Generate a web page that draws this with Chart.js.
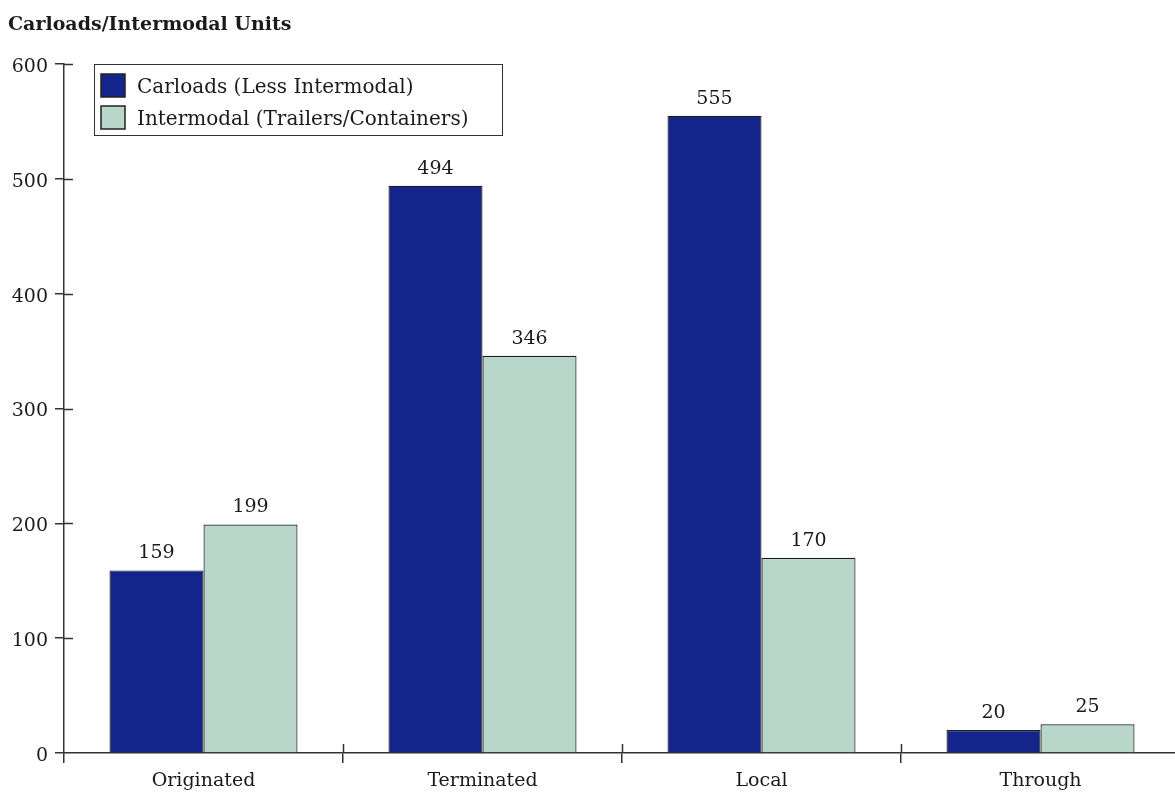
<!DOCTYPE html>
<html>
<head>
<meta charset="utf-8">
<title>Carloads/Intermodal Units</title>
<script src="https://cdn.jsdelivr.net/npm/chart.js@4.4.1/dist/chart.umd.min.js"></script>
<style>
    html, body { margin: 0; padding: 0; background: #ffffff; overflow: hidden; }
    #wrap { position: relative; width: 1180px; height: 795px; }
</style>
</head>
<body>
<div id="wrap"><canvas id="units-chart"></canvas></div>
<script>
const categories = ['Originated', 'Terminated', 'Local', 'Through'];
const carloads = [159, 494, 555, 20];
const intermodal = [199, 346, 170, 25];
const yTicks = [0, 100, 200, 300, 400, 500, 600];

const FONT = '"DejaVu Serif", "Liberation Serif", serif';
const INK = '#1a1a1a';
const AXIS = '#333333';

// axis ticks that cross the axis line (outer half is drawn by the grid)
const innerTicks = {
    id: 'innerTicks',
    afterDatasetsDraw(chart) {
        const { ctx, chartArea, scales } = chart;
        const y = scales.y;
        const x = scales.x;
        ctx.save();
        ctx.strokeStyle = AXIS;
        ctx.lineWidth = 1.5;
        ctx.beginPath();
        y.ticks.forEach((t) => {
            if (t.value === 0) return;
            const py = Math.round(y.getPixelForValue(t.value)) + 0.5;
            ctx.moveTo(chartArea.left, py);
            ctx.lineTo(chartArea.left + 9, py);
        });
        for (let i = 1; i < categories.length; i++) {
            const px = Math.round((x.getPixelForTick(i - 1) + x.getPixelForTick(i)) / 2) + 0.5;
            ctx.moveTo(px, chartArea.bottom);
            ctx.lineTo(px, chartArea.bottom - 9);
        }
        ctx.stroke();
        ctx.restore();
    },
};

// value labels above each bar
const barValues = {
    id: 'barValues',
    afterDatasetsDraw(chart) {
        const { ctx } = chart;
        ctx.save();
        ctx.font = '19px ' + FONT;
        ctx.fillStyle = INK;
        ctx.textAlign = 'center';
        ctx.textBaseline = 'alphabetic';
        chart.data.datasets.forEach((ds, di) => {
            chart.getDatasetMeta(di).data.forEach((bar, i) => {
                ctx.fillText(String(ds.data[i]), bar.x, bar.y - 12);
            });
        });
        ctx.restore();
    },
};

// boxed legend in the upper left of the plot, plus the heading
const boxLegend = {
    id: 'boxLegend',
    afterDraw(chart) {
        const { ctx, chartArea } = chart;
        const left = chartArea.left + 30;
        const top = chartArea.top;
        ctx.save();
        ctx.font = 'bold 19px ' + FONT;
        ctx.fillStyle = INK;
        ctx.textBaseline = 'alphabetic';
        ctx.fillText('Carloads/Intermodal Units', 8, 30);

        ctx.strokeStyle = AXIS;
        ctx.lineWidth = 1;
        ctx.strokeRect(left + 0.5, top + 0.5, 408, 71);
        ctx.font = '20px ' + FONT;
        chart.data.datasets.forEach((ds, i) => {
            const rowTop = top + 10 + i * 32;
            ctx.fillStyle = ds.backgroundColor;
            ctx.fillRect(left + 7, rowTop, 24, 23);
            ctx.strokeStyle = '#222222';
            ctx.lineWidth = 1.5;
            ctx.strokeRect(left + 7, rowTop, 24, 23);
            ctx.fillStyle = INK;
            ctx.fillText(ds.label, left + 43, top + 29 + i * 32);
        });
        ctx.restore();
    },
};

new Chart(document.getElementById('units-chart'), {
    type: 'bar',
    data: {
        labels: categories,
        datasets: [
            {
                label: 'Carloads (Less Intermodal)',
                data: carloads,
                backgroundColor: '#13248b',
                borderColor: '#1e1e1e',
                borderWidth: 1.2,
            },
            {
                label: 'Intermodal (Trailers/Containers)',
                data: intermodal,
                backgroundColor: '#b9d6cb',
                borderColor: '#1e1e1e',
                borderWidth: 1.2,
            },
        ],
    },
    options: {
        responsive: true,
        maintainAspectRatio: false,
        animation: false,
        layout: {
            padding: { top: 64, left: 0, right: 0, bottom: 0 },
        },
        datasets: {
            bar: {
                categoryPercentage: 0.674,
                barPercentage: 1,
            },
        },
        plugins: {
            legend: { display: false },
            tooltip: { enabled: false },
        },
        scales: {
            x: {
                grid: {
                    display: true,
                    drawOnChartArea: false,
                    drawTicks: true,
                    tickLength: 10,
                    color: AXIS,
                    lineWidth: 1.5,
                },
                border: { display: true, color: AXIS, width: 1.5 },
                ticks: {
                    color: INK,
                    font: { family: FONT, size: 19 },
                    padding: 7,
                },
                afterFit: (scale) => { scale.height = 42; },
            },
            y: {
                min: 0,
                max: 600,
                afterBuildTicks: (scale) => {
                    scale.ticks = yTicks.map((v) => ({ value: v }));
                },
                grid: {
                    display: true,
                    drawOnChartArea: false,
                    drawTicks: true,
                    tickLength: 9,
                    color: AXIS,
                    lineWidth: 1.5,
                },
                border: { display: true, color: AXIS, width: 1.5 },
                ticks: {
                    color: INK,
                    font: { family: FONT, size: 19 },
                    padding: 7,
                    labelOffset: 3,
                },
                afterFit: (scale) => { scale.width = 64; },
            },
        },
    },
    plugins: [innerTicks, barValues, boxLegend],
});
</script>
</body>
</html>
